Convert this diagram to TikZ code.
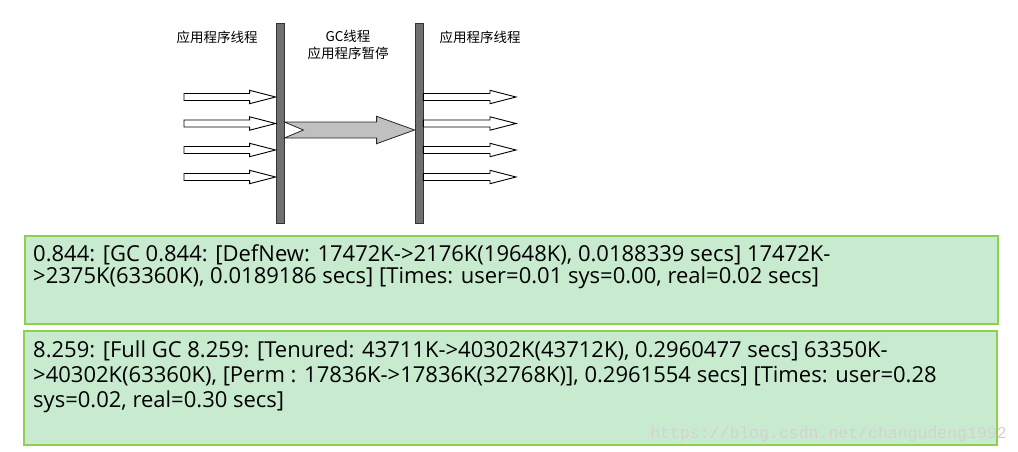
\documentclass[tikz,border=0pt]{standalone}
\usepackage{fontspec}
\setmainfont{Open Sans}
\newfontfamily\cjk{Noto Sans CJK SC}
\newfontfamily\wmfont{Liberation Mono}
\usetikzlibrary{calc}
\definecolor{barfill}{HTML}{707070}
\definecolor{gcgray}{HTML}{C0C0C0}
\definecolor{boxfill}{HTML}{C8EBD0}
\definecolor{boxedge}{HTML}{8CD04E}
\definecolor{wmgray}{HTML}{D2D2D2}
% hollow thread arrow from a start coordinate to a bar edge at the same height
\newcommand{\threadarrow}[2]{%
  \draw[hollow] let \p1=(#1), \p2=(#2) in
    (\x1,\y1+3.5pt) -- (\x2-26pt,\y1+3.5pt) -- (\x2-26pt,\y1+6.7pt) -- (\x2,\y1)
    -- (\x2-26pt,\y1-6.7pt) -- (\x2-26pt,\y1-3.5pt) -- (\x1,\y1-3.5pt) -- cycle;}
\tikzset{
  every node/.style={inner sep=0pt},
  bar/.style={draw=black!80,fill=barfill,line width=0.8pt,minimum width=8pt,minimum height=200pt},
  thread/.style={font=\cjk\fontsize{13.5}{16.5}\selectfont,align=center},
  hollow/.style={draw=black,fill=white,line width=0.9pt},
  gcarrow/.style={draw=black!85,fill=gcgray,line width=0.8pt},
  logbox/.style={draw=boxedge,fill=boxfill,line width=2.2pt,anchor=north west},
  logtext/.style={align=left,anchor=base west},
  watermark/.style={font=\wmfont\fontsize{16.5}{18}\selectfont,text=wmgray,anchor=base east}
}
\begin{document}
\begin{tikzpicture}[x=1pt,y=-1pt]
  \useasboundingbox (0,0) rectangle (1018,452);
  % the two stop-the-world walls
  \node[bar] (lbar) at (280,123) {};
  \node[bar] (rbar) at (419,123) {};

  \node[thread] (lthread) at (217,37) {应用程序线程};
  \node[thread] (gcthread) at (348,45) {GC线程\\应用程序暂停};
  \node[thread] (rthread) at (480,37) {应用程序线程};

  % application threads before and after the pause
  \foreach \i/\y in {1/97,2/123.5,3/150,4/177}{
    \coordinate (in\i) at (184,\y);
    \coordinate (out\i) at (516,\y);
    \threadarrow{in\i}{lbar.west |- in\i}
    \threadarrow{rbar.east |- in\i}{out\i}
  }

  % GC thread
  \coordinate (gcrow) at (0,130);
  \draw[gcarrow] let \p1=(lbar.east |- gcrow), \p2=(rbar.west |- gcrow) in
    (\x1,\y1+8pt) -- (\x2-38pt,\y1+8pt) -- (\x2-38pt,\y1+13.7pt) -- (\x2,\y1)
    -- (\x2-38pt,\y1-13.7pt) -- (\x2-38pt,\y1-8pt) -- (\x1,\y1-8pt)
    -- (\x1+19pt,\y1) -- cycle;

  % gc log lines (base = last line)
  \node[logbox,minimum width=973pt,minimum height=88pt] (minorbox) at (24,235) {};
  \node[logtext,font=\fontsize{22}{22.5}\selectfont] (minorlog) at (33,283.5)
    {0.844: [GC 0.844: [DefNew: 17472K->2176K(19648K), 0.0188339 secs] 17472K-\\
     >2375K(63360K), 0.0189186 secs] [Times: user=0.01 sys=0.00, real=0.02 secs]};

  \node[logbox,minimum width=973pt,minimum height=114pt] (fullbox) at (23,330) {};
  \node[logtext,font=\fontsize{22}{25}\selectfont] (fulllog) at (33,407)
    {8.259: [Full GC 8.259: [Tenured: 43711K->40302K(43712K), 0.2960477 secs] 63350K-\\
     >40302K(63360K), [Perm : 17836K->17836K(32768K)], 0.2961554 secs] [Times: user=0.28\\
     sys=0.02, real=0.30 secs]};

  \node[watermark] (blogmark) at (1007,438) {https://blog.csdn.net/changudeng1992};
\end{tikzpicture}
\end{document}
